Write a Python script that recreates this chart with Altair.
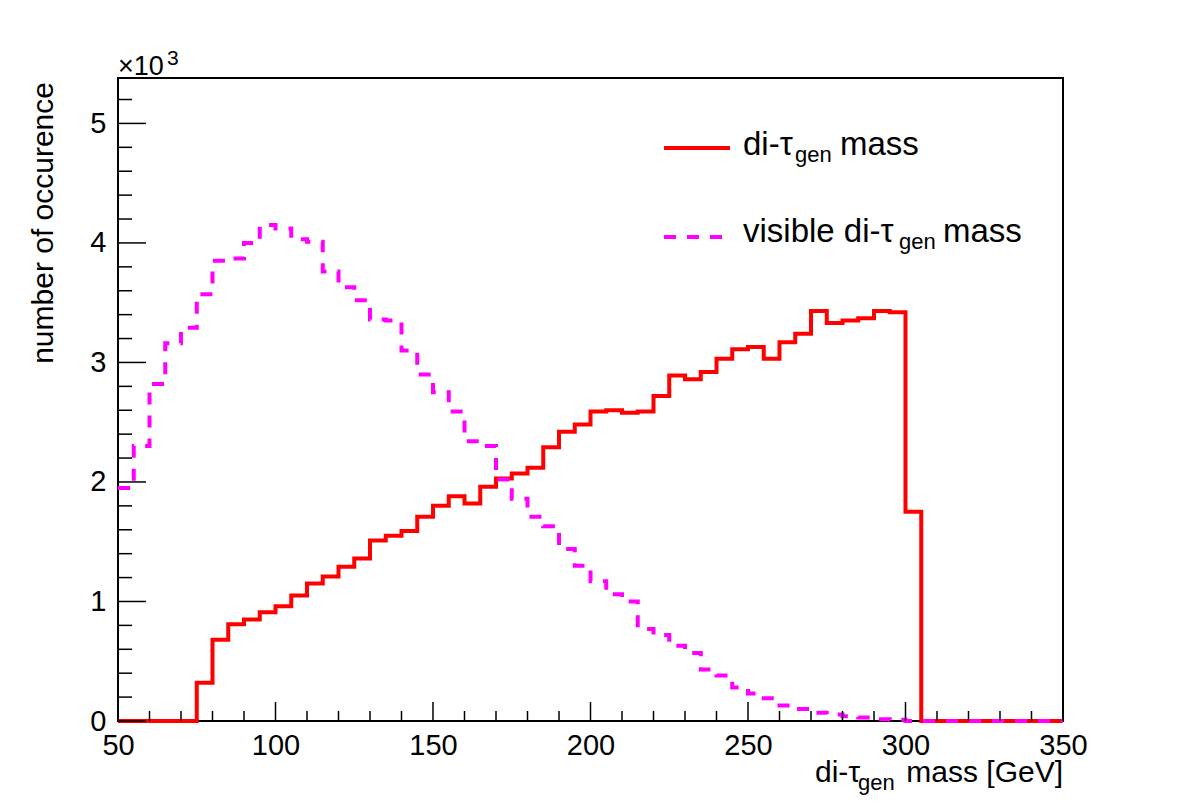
import altair as alt
import pandas as pd

# ---- data (bin lower edges, width 5 GeV) ----
bin_lo = list(range(50, 350, 5))
x_max = 350

red_counts = [0, 0, 0, 0, 0,
              320, 680, 810, 850, 910, 960, 1050, 1150, 1210, 1290,
              1360, 1510, 1550, 1590, 1710, 1800, 1880, 1820, 1960, 2030,
              2070, 2120, 2290, 2420, 2480, 2590, 2600, 2580, 2590, 2720,
              2890, 2860, 2920, 3030, 3110, 3130, 3030, 3170, 3240, 3430,
              3330, 3350, 3370, 3430, 3420, 1750,
              0, 0, 0, 0, 0, 0, 0, 0, 0]

vis_counts = [1950, 2300, 2820, 3160, 3290, 3570, 3850, 3870, 4000, 4150,
              4120, 4030, 4010, 3760, 3630, 3520, 3360, 3350, 3100, 2900,
              2750, 2590, 2340, 2300, 2020, 1860, 1710, 1630, 1440, 1300,
              1170, 1060, 1000, 770, 720, 630, 570, 430, 380, 280,
              230, 190, 130, 100, 70, 55, 40, 30, 15, 10,
              0, 0, 0, 0, 0, 0, 0, 0, 0, 0]

x_major = [50, 100, 150, 200, 250, 300, 350]
x_minor = [v for v in range(50, 351, 10) if v not in x_major]
y_major = [0, 1000, 2000, 3000, 4000, 5000]
y_minor = [v for v in range(0, 5400, 200) if v not in y_major]
y_top = 5380

W, H = 945, 643
FONT = "Liberation Sans"


def step_df(counts):
    xs = bin_lo + [x_max]
    ys = counts + [counts[-1]]
    return pd.DataFrame({"x": xs, "y": ys})


xscale = alt.Scale(domain=[50, 350], nice=False, zero=False)
yscale = alt.Scale(domain=[0, y_top], nice=False)

red_line = alt.Chart(step_df(red_counts)).mark_line(
    interpolate="step-after", color="#ff0000", strokeWidth=4, clip=False
).encode(
    x=alt.X("x:Q", scale=xscale,
            axis=alt.Axis(values=x_major, ticks=False, domain=False, grid=False,
                          labelFont=FONT, labelFontSize=29, labelColor="black",
                          labelPadding=10, title=None, labelFlush=False)),
    y=alt.Y("y:Q", scale=yscale,
            axis=alt.Axis(values=y_major, ticks=False, domain=False, grid=False,
                          labelFont=FONT, labelFontSize=29, labelColor="black",
                          labelPadding=12, title=None, labelFlush=False,
                          labelExpr="format(datum.value/1000, 'd')")),
)

vis_line = alt.Chart(step_df(vis_counts)).mark_line(
    interpolate="step-after", color="#ff00ff", strokeWidth=4,
    strokeDash=[12, 11], clip=False
).encode(x=alt.X("x:Q", scale=xscale), y=alt.Y("y:Q", scale=yscale))

# ---- inward ticks (ROOT style) ----
xmaj = alt.Chart(pd.DataFrame({"v": x_major})).mark_rule(color="black", strokeWidth=1.5).encode(
    x=alt.X("v:Q", scale=xscale), y=alt.value(H), y2=alt.value(H - 19))
xmin = alt.Chart(pd.DataFrame({"v": x_minor})).mark_rule(color="black", strokeWidth=1.5).encode(
    x=alt.X("v:Q", scale=xscale), y=alt.value(H), y2=alt.value(H - 10))
ymaj = alt.Chart(pd.DataFrame({"v": y_major})).mark_rule(color="black", strokeWidth=1.5).encode(
    y=alt.Y("v:Q", scale=yscale), x=alt.value(0), x2=alt.value(28))
ymin = alt.Chart(pd.DataFrame({"v": y_minor})).mark_rule(color="black", strokeWidth=1.5).encode(
    y=alt.Y("v:Q", scale=yscale), x=alt.value(0), x2=alt.value(14))

one = pd.DataFrame({"k": [0]})


def txt(s, x, y, size=30, align="left", angle=0):
    return alt.Chart(one).mark_text(
        text=s, font=FONT, fontSize=size, align=align, baseline="alphabetic",
        color="black", angle=angle
    ).encode(x=alt.value(x), y=alt.value(y))


# legend samples
leg_red = alt.Chart(one).mark_rule(color="#ff0000", strokeWidth=4).encode(
    x=alt.value(546), x2=alt.value(612), y=alt.value(70))
leg_vis = alt.Chart(one).mark_rule(color="#ff00ff", strokeWidth=4, strokeDash=[12, 11]).encode(
    x=alt.value(546), x2=alt.value(612), y=alt.value(159))

texts = [
    # legend entry 1
    txt("di-τ", 625, 77, size=33), txt("gen", 677, 84, size=22), txt("mass", 722, 77, size=33),
    # legend entry 2
    txt("visible di-τ", 625, 164, size=33), txt("gen", 781, 171, size=22), txt("mass", 825, 164, size=33),
    # x title
    txt("di-τ", 697, 704), txt("gen", 740, 712, size=22), txt("mass [GeV]", W, 704, align="right"),
    # y title
    txt("number of occurence", -65, 4, align="right", angle=270),
    # exponent
    txt("×10", 0, -3, size=27), txt("3", 49, -13, size=21),
]

chart = alt.layer(
    red_line, vis_line, xmaj, xmin, ymaj, ymin, leg_red, leg_vis, *texts
).properties(
    width=W, height=H,
    autosize="none",
    padding={"left": 118, "top": 78, "right": 119, "bottom": 82},
    background="white",
).configure_view(stroke="black", strokeWidth=2)

chart.save("out.html", embed_options={"renderer": "svg", "actions": False})
